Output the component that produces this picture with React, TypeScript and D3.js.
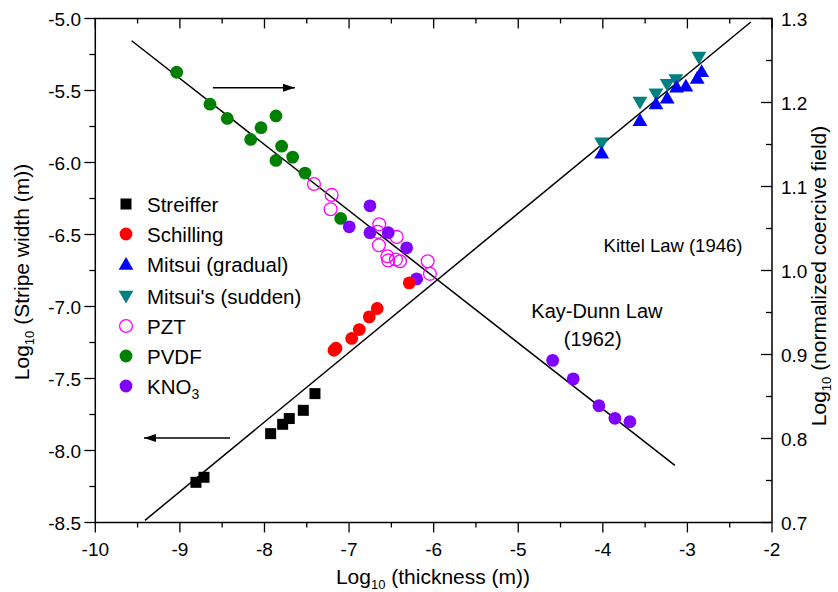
import React from "react";
import * as d3 from "d3";

// ---- data (x = log10 thickness, y = log10 stripe width or log10 coercive field) ----
const streifferX = [-8.81, -8.715, -7.927, -7.785, -7.707, -7.541, -7.403];
const streifferY = [-8.221, -8.186, -7.883, -7.818, -7.778, -7.721, -7.605];

const schillingX = [-7.178, -7.155, -6.969, -6.879, -6.761, -6.667, -6.288];
const schillingY = [-7.304, -7.29, -7.222, -7.16, -7.072, -7.014, -6.836];

const mitsuiGradX = [-4.014, -3.561, -3.372, -3.239, -3.128, -3.018, -2.884, -2.832];
const mitsuiGradY = [-5.942, -5.717, -5.601, -5.561, -5.485, -5.478, -5.423, -5.377];

const mitsuiSudX = [-4.014, -3.561, -3.372, -3.239, -3.136, -2.864];
const mitsuiSudY = [-5.856, -5.573, -5.516, -5.45, -5.416, -5.261];

const pztX = [-7.415, -7.206, -7.218, -6.643, -6.662, -6.437, -6.647, -6.548, -6.537, -6.446, -6.398, -6.071, -6.044];
const pztY = [1.103, 1.09, 1.073, 1.055, 1.046, 1.04, 1.03, 1.017, 1.012, 1.013, 1.011, 1.011, 0.996];

const pvdfX = [-9.038, -8.644, -8.44, -8.163, -8.041, -7.864, -7.797, -7.864, -7.667, -7.521, -7.099];
const pvdfY = [1.236, 1.198, 1.181, 1.156, 1.17, 1.184, 1.148, 1.131, 1.135, 1.116, 1.062];

const kno3X = [-6.753, -6.998, -6.753, -6.537, -6.319, -6.201, -4.593, -4.35, -4.046, -3.857, -3.68];
const kno3Y = [1.077, 1.052, 1.045, 1.045, 1.027, 0.99, 0.893, 0.871, 0.839, 0.824, 0.82];

// fitted laws
const kittelX = [-9.413, -2.25];
const kittelY = [-8.485, -5.024];
const kayDunnX = [-9.57, -3.148];
const kayDunnY = [1.2735, 0.768];

// axes
const xTicks = [-10, -9, -8, -7, -6, -5, -4, -3, -2];
const yLeftTicks = [-5.0, -5.5, -6.0, -6.5, -7.0, -7.5, -8.0, -8.5];
const yRightTicks = [1.3, 1.2, 1.1, 1.0, 0.9, 0.8, 0.7];

const legendNames = ["Streiffer", "Schilling", "Mitsui (gradual)", "Mitsui's (sudden)", "PZT", "PVDF", "KNO3"];

const W = 838;
const H = 592;
const FONT = "Arial, 'Liberation Sans', sans-serif";

export default function App() {
  const x = d3.scaleLinear().domain([-10, -2]).range([95.3, 772]);
  const yL = d3.scaleLinear().domain([-8.5, -5]).range([522.5, 18.5]);
  const yR = d3.scaleLinear().domain([0.7, 1.3]).range([522.5, 18.5]);

  const left = x.range()[0];
  const right = x.range()[1];
  const top = yL.range()[1];
  const bottom = yL.range()[0];

  const triUp = d3.symbol(d3.symbolTriangle, 95)()!;
  const sq = 11;

  const circle = (cx: number, cy: number, fill: string, key: string, open = false) => (
    <circle key={key} cx={cx} cy={cy} r={6.4} fill={open ? "none" : fill} stroke={open ? fill : "none"} strokeWidth={open ? 1.3 : 0} />
  );
  const square = (cx: number, cy: number, key: string) => (
    <rect key={key} x={cx - sq / 2} y={cy - sq / 2} width={sq} height={sq} fill="#000" />
  );
  const tri = (cx: number, cy: number, fill: string, key: string, down = false) => (
    <path key={key} d={triUp} fill={fill} transform={`translate(${cx},${cy})${down ? " rotate(180)" : ""}`} />
  );

  const line = (xs: number[], ys: number[], ys2: d3.ScaleLinear<number, number>) =>
    d3.line<number>()((xs.map((v, i) => [x(v), ys2(ys[i])]) as any));

  const xMinor = d3.range(-10, -2 + 0.001, 0.5);
  const yLMinor = d3.range(-8.5, -5 + 0.001, 0.25);
  const yRMinor = d3.range(0.7, 1.3 + 0.001, 0.05);

  const legendY = [204, 234, 264.5, 296, 326, 356, 386];
  const legendMarkerX = 126;
  const legendTextX = 147;

  const legendMarker = (i: number) => {
    const cy = legendY[i];
    switch (i) {
      case 0: return square(legendMarkerX, cy, "lg0");
      case 1: return circle(legendMarkerX, cy, "#ff0000", "lg1");
      case 2: return tri(legendMarkerX, cy + 1, "#0000ff", "lg2");
      case 3: return tri(legendMarkerX, cy - 1, "#008080", "lg3", true);
      case 4: return circle(legendMarkerX, cy, "#ff00ff", "lg4", true);
      case 5: return circle(legendMarkerX, cy, "#008000", "lg5");
      default: return circle(legendMarkerX, cy, "#8000ff", "lg6");
    }
  };

  const arrowR = { x1: -8.61, x2: -7.64, y: -5.481 };
  const arrowL = { x1: -8.408, x2: -9.424, y: -7.913 };

  return (
    <svg width={W} height={H} style={{ position: "fixed", left: 0, top: 0, background: "#fff" }} fontFamily={FONT}>
      <defs>
        <marker id="ah" viewBox="0 0 12 10" refX="12" refY="5" markerWidth="12" markerHeight="10" markerUnits="userSpaceOnUse" orient="auto">
          <path d="M0,1 L12,5 L0,9 Z" fill="#000" />
        </marker>
      </defs>
      <rect width={W} height={H} fill="#fff" />

      {/* frame */}
      <rect x={left} y={top} width={right - left} height={bottom - top} fill="none" stroke="#000" strokeWidth={1.5} />

      {/* bottom axis: outward ticks */}
      {xMinor.map((v, i) => {
        const major = Math.abs(v - Math.round(v)) < 1e-6;
        return <line key={"xb" + i} x1={x(v)} x2={x(v)} y1={bottom} y2={bottom + (major ? 10 : 5)} stroke="#000" strokeWidth={1.3} />;
      })}
      {/* top axis: inward ticks */}
      {xMinor.map((v, i) => {
        const major = Math.abs(v - Math.round(v)) < 1e-6;
        return <line key={"xt" + i} x1={x(v)} x2={x(v)} y1={top} y2={top + (major ? 10 : 5)} stroke="#000" strokeWidth={1.3} />;
      })}
      {xTicks.map((v) => (
        <text key={"xl" + v} x={x(v)} y={556} textAnchor="middle" fontSize={19}>{String(v)}</text>
      ))}

      {/* left axis */}
      {yLMinor.map((v, i) => {
        const major = i % 2 === 0;
        return <line key={"yl" + i} x1={left} x2={left - (major ? 11 : 6)} y1={yL(v)} y2={yL(v)} stroke="#000" strokeWidth={1.3} />;
      })}
      {yLeftTicks.map((v) => (
        <text key={"yll" + v} x={81} y={yL(v) + 7} textAnchor="end" fontSize={19}>{v.toFixed(1)}</text>
      ))}

      {/* right axis: inward ticks */}
      {yRMinor.map((v, i) => {
        const major = i % 2 === 0;
        return <line key={"yr" + i} x1={right} x2={right - (major ? 11 : 6)} y1={yR(v)} y2={yR(v)} stroke="#000" strokeWidth={1.3} />;
      })}
      {yRightTicks.map((v) => (
        <text key={"yrl" + v} x={781} y={yR(v) + 7} textAnchor="start" fontSize={19}>{v.toFixed(1)}</text>
      ))}

      {/* axis titles */}
      <text x={433} y={584} textAnchor="middle" fontSize={21}>
        Log<tspan fontSize={13} dy={5}>10</tspan><tspan dy={-5}> (thickness (m))</tspan>
      </text>
      <text transform={`translate(29,272) rotate(-90)`} textAnchor="middle" fontSize={21}>
        Log<tspan fontSize={13} dy={5}>10</tspan><tspan dy={-5}> (Stripe width (m))</tspan>
      </text>
      <text transform={`translate(826,276) rotate(-90)`} textAnchor="middle" fontSize={21}>
        Log<tspan fontSize={13} dy={5}>10</tspan><tspan dy={-5}> (normalized coercive field)</tspan>
      </text>

      {/* law lines */}
      <path d={line(kittelX, kittelY, yL)!} stroke="#000" strokeWidth={1.5} fill="none" />
      <path d={line(kayDunnX, kayDunnY, yR)!} stroke="#000" strokeWidth={1.5} fill="none" />

      {/* arrows */}
      <line x1={x(arrowR.x1)} x2={x(arrowR.x2)} y1={yL(arrowR.y)} y2={yL(arrowR.y)} stroke="#000" strokeWidth={1.5} markerEnd="url(#ah)" />
      <line x1={x(arrowL.x1)} x2={x(arrowL.x2)} y1={yL(arrowL.y)} y2={yL(arrowL.y)} stroke="#000" strokeWidth={1.5} markerEnd="url(#ah)" />

      {/* series */}
      {pvdfX.map((v, i) => circle(x(v), yR(pvdfY[i]), "#008000", "pv" + i))}
      {pztX.map((v, i) => circle(x(v), yR(pztY[i]), "#ff00ff", "pz" + i, true))}
      {kno3X.map((v, i) => circle(x(v), yR(kno3Y[i]), "#8000ff", "kn" + i))}
      {streifferX.map((v, i) => square(x(v), yL(streifferY[i]), "st" + i))}
      {schillingX.map((v, i) => circle(x(v), yL(schillingY[i]), "#ff0000", "sc" + i))}
      {mitsuiSudX.map((v, i) => tri(x(v), yL(mitsuiSudY[i]), "#008080", "ms" + i, true))}
      {mitsuiGradX.map((v, i) => tri(x(v), yL(mitsuiGradY[i]), "#0000ff", "mg" + i))}

      {/* annotations */}
      <text x={x(-3.17)} y={252} textAnchor="middle" fontSize={18.5}>Kittel Law (1946)</text>
      <text x={x(-4.07)} y={318} textAnchor="middle" fontSize={20}>Kay-Dunn Law</text>
      <text x={x(-4.12)} y={346} textAnchor="middle" fontSize={20}>(1962)</text>

      {/* legend */}
      {legendNames.map((n, i) => (
        <g key={"lg" + i}>
          {legendMarker(i)}
          <text x={legendTextX} y={legendY[i] + 7.5} fontSize={20.5}>
            {n === "KNO3" ? (<>KNO<tspan fontSize={14} dy={5}>3</tspan></>) : n}
          </text>
        </g>
      ))}
    </svg>
  );
}
